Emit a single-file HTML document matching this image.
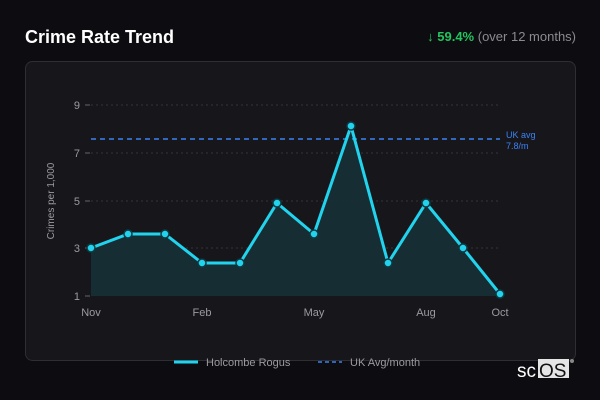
<!DOCTYPE html>
<html><head><style>
body{margin:0;width:600px;height:400px;background:#0d0d11;font-family:"Liberation Sans",sans-serif;overflow:hidden;position:relative}
</style></head><body>
<svg width="600" height="400" style="position:absolute;left:0;top:0">
<text x="25" y="43" fill="#fff" font-size="18" font-weight="bold">Crime Rate Trend</text>
<text x="576" y="41" text-anchor="end" font-size="13"><tspan fill="#22c55e" font-weight="bold">↓ 59.4%</tspan><tspan fill="#8a8a90"> (over 12 months)</tspan></text>
<rect x="25.5" y="61.5" width="550" height="299" rx="7" fill="#17171b" stroke="#2e2e33"/>
<g stroke="#333338" stroke-dasharray="2,3" stroke-width="1">
<line x1="91" x2="500" y1="105" y2="105"/><line x1="91" x2="500" y1="153" y2="153"/>
<line x1="91" x2="500" y1="201" y2="201"/><line x1="91" x2="500" y1="248" y2="248"/>
</g>
<g fill="#9a9aa0" font-size="11" text-anchor="end">
<text x="80" y="109">9</text><text x="80" y="157">7</text><text x="80" y="205">5</text><text x="80" y="252">3</text><text x="80" y="300">1</text>
</g>
<g stroke="#666" ><line x1="85" x2="90" y1="105" y2="105"/><line x1="85" x2="90" y1="153" y2="153"/><line x1="85" x2="90" y1="201" y2="201"/><line x1="85" x2="90" y1="248" y2="248"/><line x1="85" x2="90" y1="296" y2="296"/></g>
<text transform="translate(54,201) rotate(-90)" fill="#9a9aa0" font-size="10" text-anchor="middle">Crimes per 1,000</text>
<g fill="#9a9aa0" font-size="11" text-anchor="middle">
<text x="91" y="316">Nov</text><text x="202" y="316">Feb</text><text x="314" y="316">May</text><text x="426" y="316">Aug</text><text x="500" y="316">Oct</text>
</g>
<polygon fill="#163036" opacity="0.9" points="91,296 91,248 128,234 165,234 202,263 240,263 277,203 314,234 351,126 388,263 426,203 463,248 500,294 500,296"/>
<line x1="91" x2="500" y1="139" y2="139" stroke="#3b82f6" stroke-width="1.5" stroke-dasharray="5,4"/>
<text x="506" y="138" fill="#3b82f6" font-size="9">UK avg</text><text x="506" y="149" fill="#3b82f6" font-size="9">7.8/m</text>
<polyline fill="none" stroke="#22d3ee" stroke-width="3" stroke-linejoin="round" points="91,248 128,234 165,234 202,263 240,263 277,203 314,234 351,126 388,263 426,203 463,248 500,294"/>
<g fill="#22d3ee" stroke="#0e3a44" stroke-width="1.5">
<circle cx="91" cy="248" r="4"/><circle cx="128" cy="234" r="4"/><circle cx="165" cy="234" r="4"/><circle cx="202" cy="263" r="4"/><circle cx="240" cy="263" r="4"/><circle cx="277" cy="203" r="4"/><circle cx="314" cy="234" r="4"/><circle cx="351" cy="126" r="4"/><circle cx="388" cy="263" r="4"/><circle cx="426" cy="203" r="4"/><circle cx="463" cy="248" r="4"/><circle cx="500" cy="294" r="4"/>
</g>
<line x1="174" x2="198" y1="362" y2="362" stroke="#22d3ee" stroke-width="3"/>
<text x="206" y="366" fill="#9a9aa0" font-size="11">Holcombe Rogus</text>
<line x1="318" x2="342" y1="362" y2="362" stroke="#3b82f6" stroke-width="1.5" stroke-dasharray="4,3"/>
<text x="350" y="366" fill="#9a9aa0" font-size="11">UK Avg/month</text>
<rect x="538" y="359" width="31" height="19" fill="#e5e5e5"/>
<text x="517" y="377" font-size="19" fill="#fff">sc</text>
<text x="539" y="377" font-size="19" fill="#111">OS</text>
<circle cx="572" cy="361" r="2" fill="#888"/>
</svg>
</body></html>
